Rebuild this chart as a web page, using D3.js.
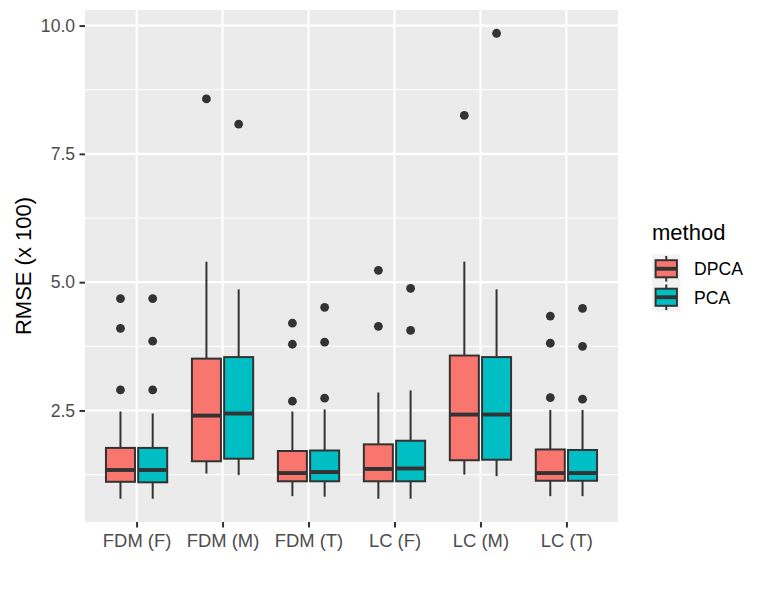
<!DOCTYPE html>
<html>
<head>
<meta charset="utf-8">
<script src="https://cdn.jsdelivr.net/npm/d3@7"></script>
<style>
  html, body { margin: 0; padding: 0; background: #fff; }
  svg { display: block; font-family: "Liberation Sans", Arial, sans-serif; }
</style>
</head>
<body>
<div id="chart"></div>
<script>
// boxplot RMSE par méthode (ggplot2 look, theme_gray)

const categories = ["FDM (F)", "FDM (M)", "FDM (T)", "LC (F)", "LC (M)", "LC (T)"]
const methods = ["DPCA", "PCA"]
const yTicks = [2.5, 5.0, 7.5, 10.0]
const yMinor = [1.25, 3.75, 6.25, 8.75]

// DPCA : whisker bas, Q1, médiane, Q3, whisker haut, outliers
const dpcaLower = [0.78, 1.27, 0.83, 0.78, 1.25, 0.83]
const dpcaQ1 = [1.11, 1.51, 1.12, 1.12, 1.53, 1.13]
const dpcaMedian = [1.34, 2.40, 1.28, 1.36, 2.42, 1.28]
const dpcaQ3 = [1.77, 3.51, 1.71, 1.84, 3.57, 1.74]
const dpcaUpper = [2.48, 5.40, 2.48, 2.85, 5.40, 2.51]
const dpcaOutliers = [[2.90, 4.10, 4.68], [8.57], [2.68, 3.79, 4.20], [4.14, 5.23], [8.25], [2.75, 3.81, 4.34]]

// PCA
const pcaLower = [0.78, 1.24, 0.82, 0.78, 1.22, 0.83]
const pcaQ1 = [1.10, 1.56, 1.12, 1.12, 1.54, 1.13]
const pcaMedian = [1.34, 2.44, 1.30, 1.37, 2.42, 1.28]
const pcaQ3 = [1.77, 3.54, 1.72, 1.91, 3.54, 1.73]
const pcaUpper = [2.44, 4.86, 2.52, 2.89, 4.86, 2.51]
const pcaOutliers = [[2.90, 3.85, 4.68], [8.08], [2.74, 3.83, 4.51], [4.06, 4.88], [9.85], [2.72, 3.75, 4.49]]

const fills = { DPCA: "#F8766D", PCA: "#00BFC4" }
const INK = "#333333"

const series = {
  DPCA: { lower: dpcaLower, q1: dpcaQ1, median: dpcaMedian, q3: dpcaQ3, upper: dpcaUpper, out: dpcaOutliers },
  PCA: { lower: pcaLower, q1: pcaQ1, median: pcaMedian, q3: pcaQ3, upper: pcaUpper, out: pcaOutliers },
}

const boxes = []
methods.forEach((m) => {
  categories.forEach((c, i) => {
    const s = series[m]
    boxes.push({ cat: c, method: m, lower: s.lower[i], q1: s.q1[i], median: s.median[i], q3: s.q3[i], upper: s.upper[i], out: s.out[i] })
  })
})

const W = 767, H = 590
const panel = { left: 85, right: 618, top: 10, bottom: 522 }

// Étendue des données + 5 % de chaque côté (comme ggplot)
const allVals = boxes.flatMap((b) => [b.lower, b.upper, ...b.out])
const lo = d3.min(allVals), hi = d3.max(allVals)
const pad = (hi - lo) * 0.05

const x = d3.scalePoint().domain(categories).range([panel.left, panel.right]).padding(0.6)
const y = d3.scaleLinear().domain([lo - pad, hi + pad]).range([panel.bottom, panel.top])

// dodge : 0.75 de la largeur de catégorie, padding 0.1
const dodgeW = x.step() * 0.75
const dodge = d3.scaleBand().domain(methods).range([-dodgeW / 2, dodgeW / 2])
  .paddingInner(0.1).paddingOuter(0.05)

const svg = d3.select("#chart").append("svg")
  .attr("width", W).attr("height", H)
  .attr("viewBox", `0 0 ${W} ${H}`)

svg.append("rect")
  .attr("x", panel.left).attr("y", panel.top)
  .attr("width", panel.right - panel.left).attr("height", panel.bottom - panel.top)
  .attr("fill", "#EBEBEB")

const grid = svg.append("g")
grid.selectAll("line.minor")
  .data(yMinor)
  .join("line")
  .attr("x1", panel.left).attr("x2", panel.right)
  .attr("y1", (d) => y(d)).attr("y2", (d) => y(d))
  .attr("stroke", "#fff").attr("stroke-width", 1.1)
grid.selectAll("line.hmajor")
  .data(yTicks)
  .join("line")
  .attr("x1", panel.left).attr("x2", panel.right)
  .attr("y1", (d) => y(d)).attr("y2", (d) => y(d))
  .attr("stroke", "#fff").attr("stroke-width", 2.1)
grid.selectAll("line.vmajor")
  .data(categories)
  .join("line")
  .attr("x1", (d) => x(d)).attr("x2", (d) => x(d))
  .attr("y1", panel.top).attr("y2", panel.bottom)
  .attr("stroke", "#fff").attr("stroke-width", 2.1)

// Boîtes
const bw = dodge.bandwidth()
const bg = svg.append("g").selectAll("g.box")
  .data(boxes)
  .join("g")
  .attr("class", "box")
  .attr("transform", (d) => `translate(${x(d.cat) + dodge(d.method) + bw / 2},0)`)

bg.append("line")
  .attr("x1", 0).attr("x2", 0)
  .attr("y1", (d) => y(d.upper)).attr("y2", (d) => y(d.q3))
  .attr("stroke", INK).attr("stroke-width", 2)
bg.append("line")
  .attr("x1", 0).attr("x2", 0)
  .attr("y1", (d) => y(d.q1)).attr("y2", (d) => y(d.lower))
  .attr("stroke", INK).attr("stroke-width", 2)
bg.append("rect")
  .attr("x", -bw / 2).attr("width", bw)
  .attr("y", (d) => y(d.q3)).attr("height", (d) => y(d.q1) - y(d.q3))
  .attr("fill", (d) => fills[d.method])
  .attr("stroke", INK).attr("stroke-width", 2)
bg.append("line")
  .attr("x1", -bw / 2).attr("x2", bw / 2)
  .attr("y1", (d) => y(d.median)).attr("y2", (d) => y(d.median))
  .attr("stroke", INK).attr("stroke-width", 3.9)
bg.selectAll("circle")
  .data((d) => d.out)
  .join("circle")
  .attr("cx", 0).attr("cy", (v) => y(v))
  .attr("r", 4.4)
  .attr("fill", INK)

// Axes
const yAxis = svg.append("g")
  .attr("transform", `translate(${panel.left},0)`)
  .call(d3.axisLeft(y).tickValues(yTicks).tickFormat(d3.format(".1f")).tickSize(5.5).tickPadding(4.4))
yAxis.select(".domain").remove()
yAxis.selectAll(".tick line").attr("stroke", INK).attr("stroke-width", 2)
yAxis.selectAll(".tick text")
  .attr("fill", "#4D4D4D").attr("font-size", 17.6)
  .attr("font-family", "Liberation Sans, Arial, sans-serif")

const xAxis = svg.append("g")
  .attr("transform", `translate(0,${panel.bottom})`)
  .call(d3.axisBottom(x).tickSize(5.5).tickPadding(6.5))
xAxis.select(".domain").remove()
xAxis.selectAll(".tick line").attr("stroke", INK).attr("stroke-width", 2)
xAxis.selectAll(".tick text")
  .attr("fill", "#4D4D4D").attr("font-size", 18.4)
  .attr("font-family", "Liberation Sans, Arial, sans-serif")

svg.append("text")
  .attr("transform", `translate(31,${(panel.top + panel.bottom) / 2}) rotate(-90)`)
  .attr("text-anchor", "middle")
  .attr("font-size", 22).attr("fill", "#000")
  .text("RMSE (x 100)")

// Légende
const lg = svg.append("g").attr("transform", "translate(652,0)")
lg.append("text")
  .attr("x", 0).attr("y", 239.5)
  .attr("font-size", 22).attr("fill", "#000")
  .text("method")

const keySize = 28.5
const keys = lg.selectAll("g.key")
  .data(methods)
  .join("g")
  .attr("class", "key")
  .attr("transform", (_, i) => `translate(0,${254.5 + i * keySize})`)

keys.append("rect")
  .attr("width", keySize).attr("height", keySize)
  .attr("fill", "#F2F2F2")
keys.append("line")
  .attr("x1", keySize / 2).attr("x2", keySize / 2)
  .attr("y1", keySize * 0.05).attr("y2", keySize * 0.95)
  .attr("stroke", INK).attr("stroke-width", 2)
keys.append("rect")
  .attr("x", keySize * 0.125).attr("width", keySize * 0.75)
  .attr("y", keySize * 0.2).attr("height", keySize * 0.6)
  .attr("fill", (d) => fills[d])
  .attr("stroke", INK).attr("stroke-width", 2)
keys.append("line")
  .attr("x1", keySize * 0.125).attr("x2", keySize * 0.875)
  .attr("y1", keySize / 2).attr("y2", keySize / 2)
  .attr("stroke", INK).attr("stroke-width", 3.9)
keys.append("text")
  .attr("x", 42).attr("y", keySize / 2)
  .attr("dy", "0.36em")
  .attr("font-size", 17.6).attr("fill", "#000")
  .text((d) => d)
</script>
</body>
</html>
